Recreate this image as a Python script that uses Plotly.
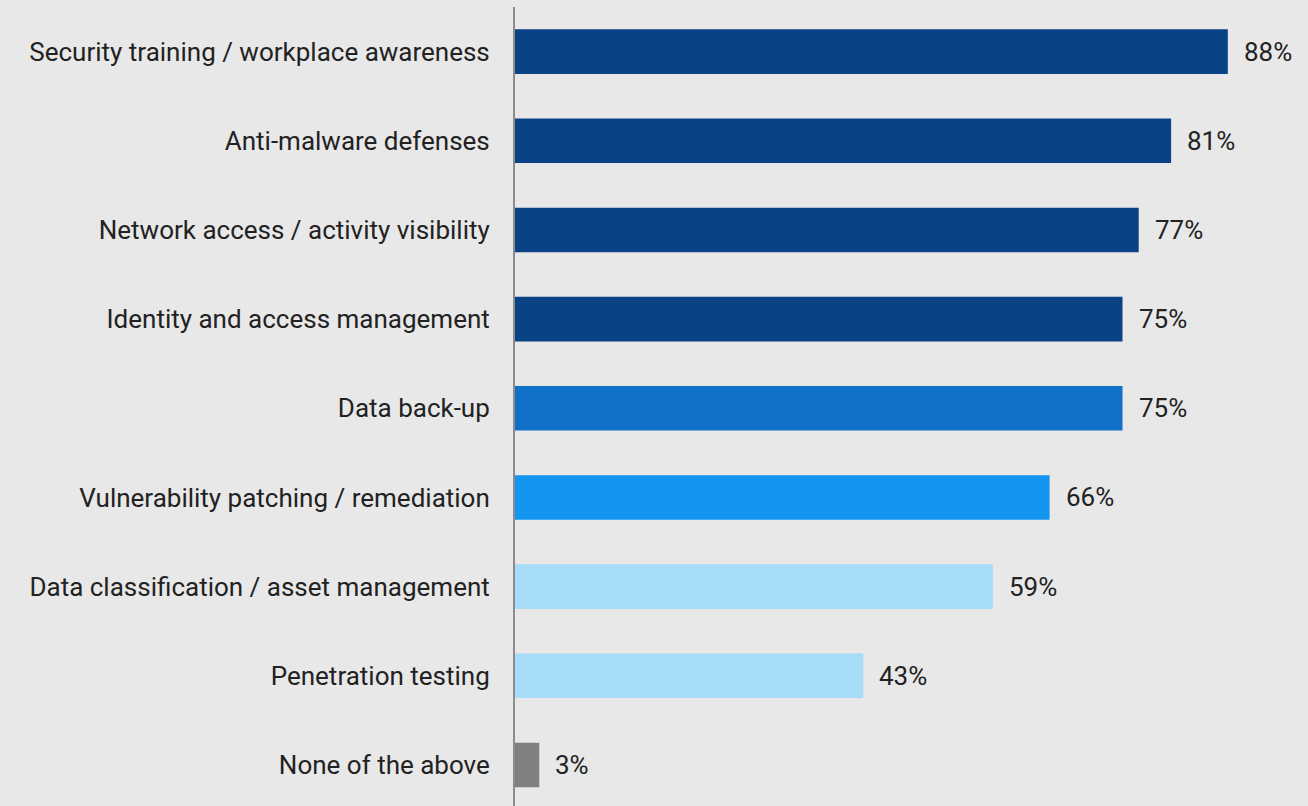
import plotly.graph_objects as go

categories = [
    "Security training / workplace awareness",
    "Anti-malware defenses",
    "Network access / activity visibility",
    "Identity and access management",
    "Data back-up",
    "Vulnerability patching / remediation",
    "Data classification / asset management",
    "Penetration testing",
    "None of the above",
]
values = [88, 81, 77, 75, 75, 66, 59, 43, 3]
bar_colors = [
    "#0A4286", "#0A4286", "#0A4286", "#0A4286",
    "#0F72C8", "#1496F0", "#A7DCF9", "#A7DCF9", "#808080",
]

# Plot bottom-up so the first category sits at the top
cats = categories[::-1]
vals = values[::-1]
cols = bar_colors[::-1]

TEXT = "#222222"

fig = go.Figure(
    go.Bar(
        x=vals,
        y=cats,
        orientation="h",
        marker=dict(color=cols, line=dict(width=0)),
        hoverinfo="skip",
    )
)

for c, v in zip(cats, vals):
    fig.add_annotation(
        x=v, y=c, text=f"{v}%", showarrow=False,
        xanchor="left", xshift=14,
        font=dict(family="Roboto", size=26, color=TEXT),
    )

fig.update_layout(
    width=1308,
    height=806,
    margin=dict(l=515, r=0, t=7, b=0),
    paper_bgcolor="#E8E8E8",
    plot_bgcolor="#E8E8E8",
    bargap=0.5,
    showlegend=False,
    font=dict(family="Roboto", size=26, color=TEXT),
)
fig.update_xaxes(range=[0, 97.9], visible=False, fixedrange=True)
fig.update_yaxes(
    range=[-0.46, 8.5],
    showline=True,
    linecolor="#8C8C8C",
    linewidth=2,
    showgrid=False,
    zeroline=False,
    ticks="",
    ticklabelstandoff=18,
    tickfont=dict(family="Roboto", size=26, color=TEXT),
    fixedrange=True,
)

fig.write_html("out.html")
